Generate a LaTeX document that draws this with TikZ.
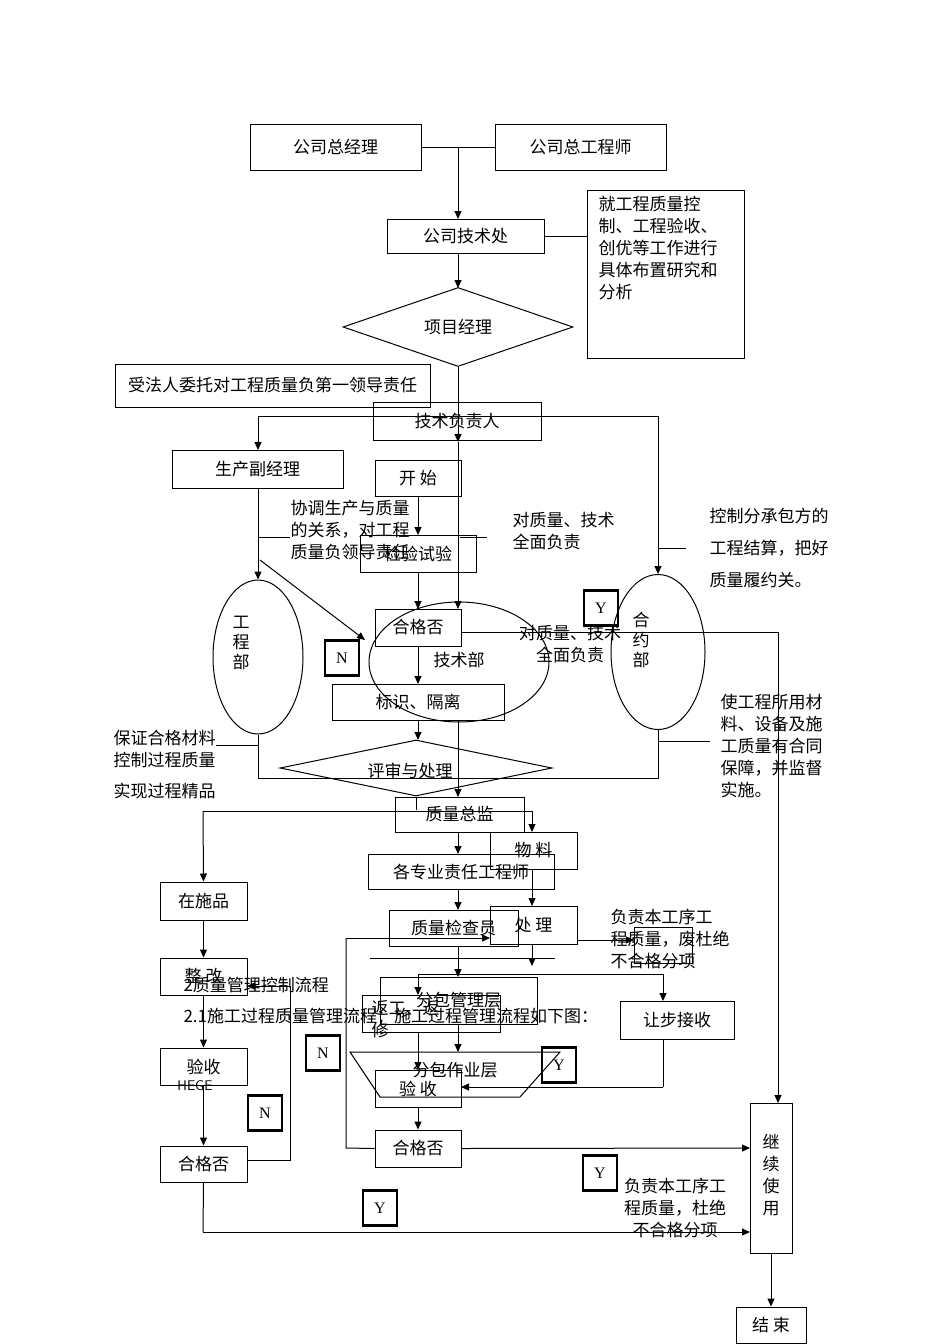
\documentclass[tikz,border=0pt]{standalone}
\usepackage{fontspec}
\setmainfont{Noto Sans CJK SC}
\newfontfamily\latinf{Liberation Serif}
\usetikzlibrary{shapes.geometric,arrows.meta}
\begin{document}
\begin{tikzpicture}[x=1pt,y=-1pt,line width=1pt,
  bx/.style={draw,rectangle,inner sep=0pt},
  yn/.style={draw,line width=2.2pt,minimum width=34pt,minimum height=35pt,inner sep=0pt,font=\latinf\fontsize{16}{16}\selectfont},
  tx/.style={inner sep=0pt,align=left,font=\fontsize{17}{22}\selectfont,anchor=north west},
  ar/.style={-{Triangle[length=8pt,width=7pt]}},
  every node/.style={font=\fontsize{17}{18}\selectfont}]
\useasboundingbox (0,0) rectangle (950,1344);
\fill[white] (0,0) rectangle (950,1344);
\newcommand{\bxx}[6]{\node[bx,minimum width=#4-#2,minimum height=#5-#3] (#1) at ({(#2+#4)/2},{(#3+#5)/2}) {#6};}
\bxx{zjl}{250}{124}{421}{170}{公司总经理}
\bxx{zgcs}{495}{124}{666}{170}{公司总工程师}
\bxx{jsc}{387}{219}{544}{253}{公司技术处}
\node[bx,minimum width=157,minimum height=168,anchor=north west] (note1) at (587,190) {};
\node[tx] (note1t) at (598,196) {就工程质量控\\制、工程验收、\\创优等工作进行\\具体布置研究和\\分析};
\node[draw,diamond,aspect=2.9,minimum width=230,minimum height=79,inner sep=0pt] (xmjl) at (458,327) {项目经理};
\bxx{frwt}{115}{364}{430}{407}{受法人委托对工程质量负第一领导责任}
\bxx{jsfz}{373}{402}{541}{440}{技术负责人}
\bxx{scfj}{172}{450}{343}{488}{生产副经理}
\bxx{ks}{375}{460}{461}{496}{开\ 始}
\bxx{jysy}{360}{535}{476}{572}{检验试验}
\bxx{hgf1}{375}{609}{461}{646}{合格否}
\node[draw,ellipse,minimum width=90,minimum height=154,inner sep=0pt] (gcb) at (258,657) {};
\node[align=center,font=\fontsize{17}{20}\selectfont] at (241,643) {工\\程\\部};
\node[draw,ellipse,minimum width=94,minimum height=155,inner sep=0pt] (hyb) at (658,652) {};
\node[align=center,font=\fontsize{17}{20}\selectfont] at (641,640) {合\\约\\部};
\node[draw,ellipse,minimum width=180,minimum height=120,inner sep=0pt] (jsb) at (459,662) {};
\node at (459,660) {技术部};
\bxx{bsgl}{332}{684}{504}{720}{标识、隔离}
\node[draw,diamond,aspect=4.9,minimum width=272,minimum height=56,inner sep=0pt] (pszl) at (416,768) {};
\node at (410,771) {评审与处理};
\bxx{zlzj}{395}{797}{524}{832}{质量总监}
\bxx{wl}{490}{832}{577}{869}{物\ 料}
\bxx{gzy}{368}{854}{554}{889}{各专业责任工程师}
\bxx{zsp}{160}{882}{247}{920}{在施品}
\bxx{zg}{160}{958}{247}{995}{整\ 改}
\bxx{cl}{490}{906}{577}{944}{处\ 理}
\bxx{zljc}{389}{910}{518}{946}{质量检查员}
\bxx{bf}{634}{927}{692}{963}{}
\bxx{fbgl}{380}{977}{537}{1024}{分包管理层}
\node[bx,minimum width=138,minimum height=37,anchor=north west] (fgfx) at (362,995) {};
\node[tx] at (371,1000) {返工、返\\修};
\bxx{rbjs}{620}{1001}{734}{1039}{让步接收}
\draw (350,1052) -- (560,1052) -- (520,1097) -- (380,1097) -- cycle;
\node at (455,1070) {分包作业层};
\bxx{ys2}{375}{1070}{461}{1107}{验\ 收}
\bxx{ys1}{160}{1048}{247}{1085}{验收}
\node[font=\sffamily\fontsize{14}{14}\selectfont] at (195,1086) {HEGE};
\bxx{hgf2}{375}{1130}{461}{1167}{合格否}
\bxx{hgf3}{160}{1146}{247}{1182}{合格否}
\node[bx,minimum width=42,minimum height=150] (jxsy) at (771,1178) {};
\node[align=center,font=\fontsize{17}{22}\selectfont] at (771,1175) {继\\续\\使\\用};
\bxx{js}{736}{1307}{806}{1343}{结\ 束}
\node[yn] (y1) at (601,608) {Y};
\node[yn] (n1) at (342,658) {N};
\node[yn] (n2) at (323,1053) {N};
\node[yn] (y2) at (559,1065) {Y};
\node[yn] (n3) at (265,1113) {N};
\node[yn] (y3) at (380,1208) {Y};
\node[yn] (y4) at (600,1173) {Y};
\node[tx] at (290,500) {协调生产与质量\\的关系，对工程\\质量负领导责任};
\node[tx] at (512,512) {对质量、技术\\全面负责};
\node[tx,font=\fontsize{17}{32}\selectfont] at (709,508) {控制分承包方的\\工程结算，把好\\质量履约关。};
\node[align=center,inner sep=0pt,font=\fontsize{17}{22}\selectfont] at (570,644) {对质量、技术\\全面负责};
\node[tx] at (113,730) {保证合格材料\\控制过程质量};
\node[tx] at (113,783) {实现过程精品};
\node[tx] at (720,694) {使工程所用材\\料、设备及施\\工质量有合同\\保障，并监督\\实施。};
\node[tx] at (610,909) {负责本工序工\\程质量，废杜绝\\不合格分项};
\node[align=center,inner sep=0pt,font=\fontsize{17}{22}\selectfont] at (675,1208) {负责本工序工\\程质量，杜绝\\不合格分项};
\node[tx] at (183,977) {2质量管理控制流程};
\node[tx] at (183,1008) {2.1施工过程质量管理流程：施工过程管理流程如下图：};
\draw (zjl.east) -- (zgcs.west);
\coordinate (c1) at (458,147);
\draw[ar] (c1) -- (458,219);
\draw (jsc.east) -- (note1.west|-jsc.east);
\draw[ar] (458,253) -- (458,288);
\draw (xmjl.south) -- (458,402);
\draw[ar] (458,402) -- (458,442);
\draw[ar] (458,442) -- (458,609);
\draw[ar] (258,416) -- (258,450);
\draw (258,416) -- (658,416);
\draw[ar] (658,416) -- (hyb.north);
\draw[ar] (258,488) -- (gcb.north);
\draw (258,537) -- (290,537);
\draw[ar] (260,560) -- (365,640);
\draw[ar] (418,496) -- (418,535);
\draw (460,537) -- (487,537);
\draw (658,548) -- (686,548);
\draw[ar] (418,572) -- (418,609);
\draw (461,632) -- (778,632);
\draw[ar] (778,632) -- (778,1103);
\draw[ar] (418,646) -- (418,684);
\draw[ar] (418,720) -- (418,740);
\draw[ar] (458,720) -- (458,797);
\draw (gcb.south) -- (258,778) -- (658,778) -- (hyb.south);
\draw (216,745) -- (258,745);
\draw (658,741) -- (710,741);
\draw (pszl.south) -- (416,810);
\draw (203,811) -- (532,811);
\draw[ar] (203,811) -- (zsp.north);
\draw[ar] (532,811) -- (532,832);
\draw[ar] (458,832) -- (458,854);
\draw[ar] (532,869) -- (532,906);
\draw[ar] (458,889) -- (458,910);
\draw[ar] (577,940) -- (634,940);
\draw[ar] (532,944) -- (532,966);
\draw (370,958) -- (555,958);
\draw[ar] (458,946) -- (458,977);
\draw (418,974) -- (663,974);
\draw[ar] (418,974) -- (418,995);
\draw[ar] (663,974) -- (663,1001);
\draw (663,1039) -- (663,1087);
\draw[ar] (663,1087) -- (461,1087);
\draw[ar] (418,1032) -- (418,1070);
\draw[ar] (458,1024) -- (458,1052);
\draw[ar] (ys2.south) -- (hgf2.north);
\draw[ar] (hgf2.east) -- (750,1148);
\draw (hgf2.west) -- (346,1148) -- (346,938);
\draw[ar] (346,938) -- (490,938);
\draw[ar] (zsp.south) -- (zg.north);
\draw[ar] (zg.south) -- (ys1.north);
\draw[ar] (ys1.south) -- (hgf3.north);
\draw (247,1160) -- (290,1160) -- (290,986);
\draw[ar] (290,986) -- (247,986);
\draw (hgf3.south) -- (203,1232);
\draw[ar] (203,1232) -- (750,1232);
\draw[ar] (jxsy.south) -- (js.north);
\end{tikzpicture}
\end{document}
